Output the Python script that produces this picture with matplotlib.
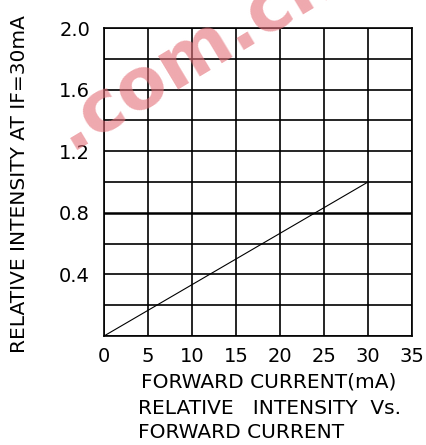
import matplotlib
matplotlib.use("Agg")
import matplotlib.pyplot as plt

# data
current_ma = [0, 30]
rel_intensity = [0.0, 1.0]

x_ticks = [0, 5, 10, 15, 20, 25, 30, 35]
y_grid = [0.2 * i for i in range(11)]
y_labels = [0.4, 0.8, 1.2, 1.6, 2.0]

W, H = 426, 445
fig = plt.figure(figsize=(W / 100, H / 100), dpi=100)
ax = fig.add_axes([104 / W, 1 - 336 / H, (412 - 104) / W, (336 - 28) / H])
ax.set_xlim(0, 35)
ax.set_ylim(0, 2.0)

for x in x_ticks:
    ax.axvline(x, color="black", lw=1.2, zorder=1)
for y in y_grid:
    ax.axhline(y, color="black", lw=1.8 if abs(y - 0.8) < 1e-6 else 1.2, zorder=1)
for s in ax.spines.values():
    s.set_linewidth(1.2)

ax.plot(current_ma, rel_intensity, color="black", lw=0.8, zorder=2)

ax.set_xticks(x_ticks)
ax.set_xticklabels([str(v) for v in x_ticks])
ax.set_yticks(y_labels)
ax.set_yticklabels([f"{v:.1f}" for v in y_labels])
ax.tick_params(length=0, labelsize=14, pad=8)
ax.tick_params(axis="y", pad=10)

fs = 14.5
fig.text(20 / W, 1 - 184 / H, "RELATIVE INTENSITY AT IF=30mA", rotation=90,
         ha="center", va="center", fontsize=fs)
fig.text(141 / W, 1 - 382 / H, "FORWARD CURRENT(mA)", ha="left", va="center", fontsize=fs)
fig.text(138 / W, 1 - 408 / H, "RELATIVE   INTENSITY  Vs.", ha="left", va="center", fontsize=fs)
fig.text(138 / W, 1 - 432 / H, "FORWARD CURRENT", ha="left", va="center", fontsize=fs)

# faint watermark (cut off at the top edge, as in the source image)
fig.text(196 / W, 1 - 52 / H, ".com.cn", rotation=31, color="#e46f78", alpha=0.6,
         fontsize=52, fontweight="bold", ha="center", va="center", zorder=5)

fig.savefig("out.png", dpi=100)
